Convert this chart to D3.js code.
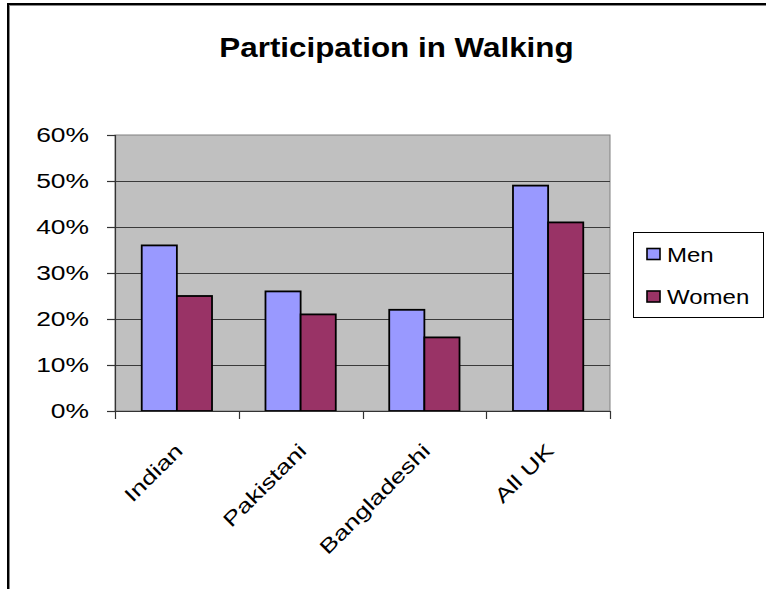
<!DOCTYPE html>
<html>
<head>
<meta charset="utf-8">
<script src="https://cdn.jsdelivr.net/npm/d3@7"></script>
<style>
  html, body { margin: 0; padding: 0; background: #fff; }
  svg { display: block; }
  text { font-family: "Liberation Sans", Arial, sans-serif; fill: #000; }
</style>
</head>
<body>
<script>
// ---- data ----
const categories = ["Indian", "Pakistani", "Bangladeshi", "All UK"];
const seriesNames = ["Men", "Women"];
const menValues = [0.36, 0.26, 0.22, 0.49];
const womenValues = [0.25, 0.21, 0.16, 0.41];
const yTicks = [0, 0.1, 0.2, 0.3, 0.4, 0.5, 0.6];
const titleText = "Participation in Walking";

const seriesValues = { Men: menValues, Women: womenValues };
const colors = { Men: "#9999FF", Women: "#993366" };

const W = 766, H = 589;
const plot = { left: 115, right: 610, top: 135, bottom: 411 };

const svg = d3.select("body").append("svg").attr("width", W).attr("height", H);

// stretch text horizontally along its baseline
function stretch(sel, k) {
  sel.each(function () {
    const len = this.getComputedTextLength();
    d3.select(this).attr("textLength", len * k).attr("lengthAdjust", "spacingAndGlyphs");
  });
}

// outer chart border (top and left visible)
svg.append("rect").attr("x", 7).attr("y", 3).attr("width", W).attr("height", 2).attr("fill", "#000");
svg.append("rect").attr("x", 9).attr("y", 5).attr("width", W).attr("height", 1).attr("fill", "#888");
svg.append("rect").attr("x", 7).attr("y", 3).attr("width", 2).attr("height", H).attr("fill", "#000");
svg.append("rect").attr("x", 9).attr("y", 5).attr("width", 1).attr("height", H).attr("fill", "#888");

// title
const title = svg.append("text")
  .attr("x", 396.5).attr("y", 57)
  .attr("text-anchor", "middle")
  .attr("font-size", 28).attr("font-weight", "bold")
  .text(titleText);
stretch(title, 1.12);

// scales
const x0 = d3.scaleBand().domain(categories).range([plot.left, plot.right]).padding(0);
const step = x0.step();
const gap = step * 0.216;
const x1 = d3.scaleBand().domain(seriesNames).range([gap, step - gap]).padding(0);
const y = d3.scaleLinear().domain([0, 0.6]).range([plot.bottom, plot.top]);

// plot area
svg.append("rect")
  .attr("x", plot.left).attr("y", plot.top)
  .attr("width", plot.right - plot.left).attr("height", plot.bottom - plot.top)
  .attr("fill", "#C0C0C0").attr("stroke", "#808080").attr("stroke-width", 1);

// gridlines
svg.append("g").selectAll("line")
  .data(yTicks.filter(d => d > 0 && d < 0.6))
  .join("line")
  .attr("x1", plot.left).attr("x2", plot.right)
  .attr("y1", d => Math.round(y(d)) + 0.5).attr("y2", d => Math.round(y(d)) + 0.5)
  .attr("stroke", "#3a3a3a").attr("stroke-width", 1.2);

// bars
const groups = svg.append("g").selectAll("g")
  .data(categories)
  .join("g")
  .attr("transform", d => `translate(${x0(d)},0)`);

groups.selectAll("rect")
  .data((c, i) => seriesNames.map(s => ({ s, v: seriesValues[s][i] })))
  .join("rect")
  .attr("x", d => x1(d.s))
  .attr("y", d => y(d.v))
  .attr("width", x1.bandwidth())
  .attr("height", d => y(0) - y(d.v))
  .attr("fill", d => colors[d.s])
  .attr("stroke", "#000").attr("stroke-width", 1.8);

// y axis
const yAxis = svg.append("g")
  .attr("transform", `translate(${plot.left},0)`)
  .call(d3.axisLeft(y).tickValues(yTicks).tickFormat(d3.format(".0%")).tickSize(8).tickPadding(18));
yAxis.select(".domain").attr("stroke", "#333").attr("stroke-width", 1.2);
yAxis.selectAll(".tick line").attr("stroke", "#333").attr("stroke-width", 1.2);
yAxis.selectAll(".tick text")
  .attr("font-size", 20)
  .attr("font-family", "Liberation Sans, Arial, sans-serif")
  .attr("fill", "#000")
  .call(stretch, 1.32);

// x axis
const xAxis = svg.append("g")
  .attr("transform", `translate(0,${plot.bottom})`);
xAxis.append("line")
  .attr("x1", plot.left).attr("x2", plot.right)
  .attr("y1", 0.5).attr("y2", 0.5)
  .attr("stroke", "#333").attr("stroke-width", 1.2);
const boundaries = categories.map(c => x0(c)).concat([x0(categories[categories.length - 1]) + step]);
xAxis.selectAll("line.tk")
  .data(boundaries)
  .join("line").attr("class", "tk")
  .attr("x1", d => Math.round(d) + 0.5).attr("x2", d => Math.round(d) + 0.5)
  .attr("y1", 0).attr("y2", 8)
  .attr("stroke", "#333").attr("stroke-width", 1.2);

const xl = xAxis.selectAll("text.xl")
  .data(categories)
  .join("text").attr("class", "xl")
  .attr("text-anchor", "end")
  .attr("font-size", 20)
  .attr("transform", d => `translate(${x0(d) + step / 2 + 7},41) rotate(-45)`)
  .text(d => d);
stretch(xl, 1.33);

// legend
const lg = svg.append("g");
lg.append("rect")
  .attr("x", 633.5).attr("y", 232.5).attr("width", 130).attr("height", 85)
  .attr("fill", "#fff").attr("stroke", "#000").attr("stroke-width", 1);
const items = lg.selectAll("g.item")
  .data(seriesNames)
  .join("g").attr("class", "item")
  .attr("transform", (d, i) => `translate(0,${i * 42.5})`);
items.append("rect")
  .attr("x", 647).attr("y", 248.5).attr("width", 13).attr("height", 11)
  .attr("fill", d => colors[d]).attr("stroke", "#000").attr("stroke-width", 1.6);
const lt = items.append("text")
  .attr("x", 667).attr("y", 261.5)
  .attr("font-size", 20)
  .text(d => d);
stretch(lt, 1.2);
</script>
</body>
</html>
